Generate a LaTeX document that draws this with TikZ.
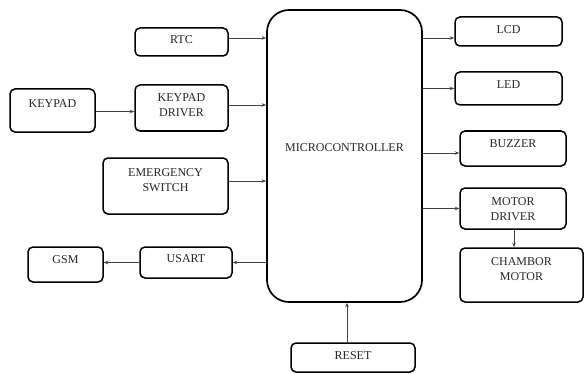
\documentclass[tikz,border=0pt]{standalone}
\usepackage{fontspec}
\setmainfont{Liberation Serif}
\usetikzlibrary{arrows.meta,calc}
\begin{document}
\begin{tikzpicture}[x=1pt,y=1pt,
  box/.style={draw=black, line width=1.5pt, rounded corners=5pt, inner sep=0pt},
  lbl/.style={text=black!85, align=center, font=\fontsize{12}{15}\selectfont},
  arr/.style={draw=black!75, line width=0.8pt, -{Stealth[length=4.5pt,width=3.5pt]}}]
\useasboundingbox (0,0) rectangle (584,373);
% microcontroller
\node[box, rounded corners=22pt, line width=1.7pt, minimum width=155pt, minimum height=292pt,
  label={[lbl,yshift=8pt]center:MICROCONTROLLER}] (mcu) at (344.5,217) {};
% left side
\node[box, minimum width=93pt, minimum height=28pt, label={[lbl,yshift=2pt]center:RTC}] (rtc) at (181.5,331) {};
\node[box, minimum width=93pt, minimum height=46pt, label={[lbl,yshift=2.5pt]center:{KEYPAD\\DRIVER}}] (kd) at (181.5,265) {};
\node[box, minimum width=85pt, minimum height=43pt, label={[lbl,yshift=7pt]center:KEYPAD}] (kp) at (52.5,262.5) {};
\node[box, minimum width=125pt, minimum height=56pt, label={[lbl,yshift=6pt]center:{EMERGENCY\\SWITCH}}] (es) at (165.5,187) {};
\node[box, minimum width=92pt, minimum height=31pt, label={[lbl,yshift=3.5pt]center:USART}] (us) at (186,110.5) {};
\node[box, minimum width=75pt, minimum height=35pt, label={[lbl,yshift=4.5pt]center:GSM}] (gsm) at (65.5,108.5) {};
% right side
\node[box, minimum width=107pt, minimum height=29pt, label={[lbl,yshift=1.5pt]center:LCD}] (lcd) at (508.5,341.5) {};
\node[box, minimum width=107pt, minimum height=33pt, label={[lbl,yshift=3.5pt]center:LED}] (led) at (508.5,284.5) {};
\node[box, minimum width=106pt, minimum height=35pt, label={[lbl,yshift=4.5pt]center:BUZZER}] (bz) at (513,224.5) {};
\node[box, minimum width=106pt, minimum height=41pt, label={[lbl,yshift=-1pt]center:{MOTOR\\DRIVER}}] (md) at (513,164.5) {};
\node[box, minimum width=123pt, minimum height=54pt, label={[lbl,yshift=5.5pt]center:{CHAMBOR\\MOTOR}}] (cm) at (521.5,98) {};
% bottom
\node[box, minimum width=124pt, minimum height=29pt, label={[lbl,yshift=1.5pt]center:RESET}] (rs) at (353,15.5) {};
% connectors
\draw[arr] ([yshift=4pt]rtc.east) -- ([yshift=4pt]rtc.east -| mcu.west);
\draw[arr] ([yshift=3pt]kd.east) -- ([yshift=3pt]kd.east -| mcu.west);
\draw[arr] ([yshift=-1pt]kp.east) -- ([yshift=-1pt]kp.east -| kd.west);
\draw[arr] ([yshift=5pt]es.east) -- ([yshift=5pt]es.east -| mcu.west);
\draw[arr] (us.east -| mcu.west) -- (us.east);
\draw[arr] (us.west) -- (us.west -| gsm.east);
\draw[arr] ([yshift=-6.5pt]lcd.west -| mcu.east) -- ([yshift=-6.5pt]lcd.west);
\draw[arr] (led.west -| mcu.east) -- (led.west);
\draw[arr] ([yshift=-4.5pt]bz.west -| mcu.east) -- ([yshift=-4.5pt]bz.west);
\draw[arr] (md.west -| mcu.east) -- (md.west);
\draw[arr] ([xshift=1pt]md.south) -- ([xshift=1pt]md.south |- cm.north);
\draw[arr] ([xshift=-6pt]rs.north) -- ([xshift=-6pt]rs.north |- mcu.south);
\end{tikzpicture}
\end{document}
